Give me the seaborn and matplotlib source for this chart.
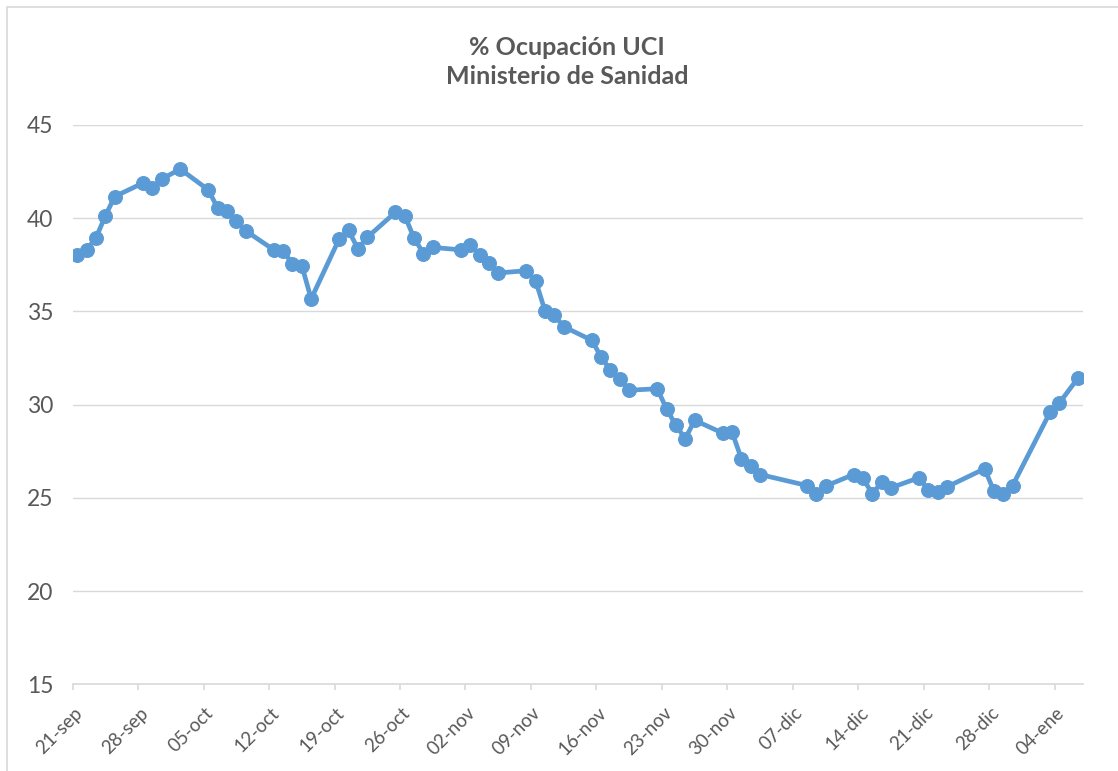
#!/usr/bin/env python3
"""
% Ocupacion UCI (Ministerio de Sanidad) - line chart with markers.
"""

import pandas as pd
import matplotlib
matplotlib.use("Agg")
import matplotlib.pyplot as plt
from matplotlib.patches import Rectangle
from matplotlib.transforms import ScaledTranslation
import seaborn as sns

# Dates of each report (as shown on the chart) and % ICU occupancy
fechas = [
    "2020-09-21", "2020-09-22", "2020-09-23", "2020-09-24", "2020-09-25",
    "2020-09-28", "2020-09-29", "2020-09-30", "2020-10-02",
    "2020-10-05", "2020-10-06", "2020-10-07", "2020-10-08", "2020-10-09",
    "2020-10-12", "2020-10-13", "2020-10-14", "2020-10-15", "2020-10-16",
    "2020-10-19", "2020-10-20", "2020-10-21", "2020-10-22",
    "2020-10-25", "2020-10-26", "2020-10-27", "2020-10-28", "2020-10-29",
    "2020-11-01", "2020-11-02", "2020-11-03", "2020-11-04", "2020-11-05",
    "2020-11-08", "2020-11-09", "2020-11-10", "2020-11-11", "2020-11-12",
    "2020-11-15", "2020-11-16", "2020-11-17", "2020-11-18", "2020-11-19",
    "2020-11-22", "2020-11-23", "2020-11-24", "2020-11-25", "2020-11-26",
    "2020-11-29", "2020-11-30", "2020-12-01", "2020-12-02", "2020-12-03",
    "2020-12-08", "2020-12-09", "2020-12-10",
    "2020-12-13", "2020-12-14", "2020-12-15", "2020-12-16", "2020-12-17",
    "2020-12-20", "2020-12-21", "2020-12-22", "2020-12-23",
    "2020-12-27", "2020-12-28", "2020-12-29", "2020-12-30",
    "2021-01-03", "2021-01-04", "2021-01-06",
]
ocupacion = [
    38.0, 38.3, 38.95, 40.13, 41.16,
    41.88, 41.64, 42.09, 42.63,
    41.52, 40.54, 40.36, 39.82, 39.32,
    38.3, 38.25, 37.55, 37.45, 35.67,
    38.89, 39.35, 38.35, 38.97,
    40.31, 40.13, 38.94, 38.1, 38.43,
    38.3, 38.57, 38.04, 37.59, 37.06,
    37.18, 36.64, 35.03, 34.79, 34.18,
    33.45, 32.56, 31.84, 31.38, 30.77,
    30.85, 29.77, 28.88, 28.17, 29.16,
    28.47, 28.52, 27.1, 26.68, 26.25,
    25.66, 25.23, 25.63,
    26.25, 26.04, 25.22, 25.84, 25.54,
    26.08, 25.41, 25.31, 25.59,
    26.56, 25.36, 25.18, 25.66,
    29.59, 30.09, 31.43,
]

tick_fechas = pd.date_range("2020-09-21", "2021-01-04", freq="7D")
tick_labels = [
    "21-sep", "28-sep", "05-oct", "12-oct", "19-oct", "26-oct", "02-nov",
    "09-nov", "16-nov", "23-nov", "30-nov", "07-dic", "14-dic", "21-dic",
    "28-dic", "04-ene",
]
y_ticks = [15, 20, 25, 30, 35, 40, 45]

TITULO = "% Ocupación UCI\nMinisterio de Sanidad"
AZUL = "#5B9BD5"
GRIS_TEXTO = "#595959"
GRIS_LINEA = "#D9D9D9"


def build_frame():
    """Put the series in a DataFrame; each day is drawn in the middle of its slot."""
    df = pd.DataFrame({"fecha": pd.to_datetime(fechas), "ocupacion": ocupacion})
    df["x"] = df["fecha"] + pd.Timedelta(hours=12)
    return df


def plot_chart(df, output_path):
    sns.set_theme(style="white")
    plt.rcParams["font.family"] = ["Lato", "DejaVu Sans"]

    fig = plt.figure(figsize=(11.18, 7.71), dpi=100)
    ax = fig.add_axes([0.065, 0.1125, 0.9035, 0.7255])

    sns.lineplot(data=df, x="x", y="ocupacion", ax=ax, color=AZUL,
                 linewidth=3.4, marker="o", markersize=10,
                 markeredgecolor=AZUL, markerfacecolor=AZUL)

    ax.set_xlim(pd.Timestamp("2020-09-21"), pd.Timestamp("2021-01-07"))
    ax.set_ylim(15, 45)
    ax.set_yticks(y_ticks)
    ax.set_xticks(tick_fechas)
    ax.set_xticklabels(tick_labels, rotation=45, ha="right",
                       rotation_mode="anchor", va="center")
    ax.set_xlabel("")
    ax.set_ylabel("")

    # Excel-style axes: horizontal grid, light bottom axis with ticks
    ax.grid(axis="y", color=GRIS_LINEA, linewidth=1.0)
    ax.grid(axis="x", visible=False)
    for side in ["left", "right", "top"]:
        ax.spines[side].set_visible(False)
    ax.spines["bottom"].set_color(GRIS_LINEA)
    ax.spines["bottom"].set_linewidth(1.2)
    ax.tick_params(axis="x", colors=GRIS_TEXTO, labelsize=13.5,
                   length=4, width=1.2, color=GRIS_LINEA, direction="out",
                   pad=14.8, bottom=True)
    ax.tick_params(axis="y", colors=GRIS_TEXTO, labelsize=16.5, length=0, pad=14)

    # rotated labels end a little to the right of their tick, as in Excel
    shift = ScaledTranslation(7 / 100, 0, fig.dpi_scale_trans)
    for lab in ax.get_xticklabels():
        lab.set_transform(lab.get_transform() + shift)

    fig.text(0.507, 1 - 62 / 771, TITULO, ha="center", va="center",
             fontsize=18, fontweight="bold", color=GRIS_TEXTO, linespacing=1.3)

    # chart area border
    fig.add_artist(Rectangle((7 / 1118, -0.1), 1.2, 1.1 - 7 / 771,
                             transform=fig.transFigure, fill=False,
                             edgecolor=GRIS_LINEA, linewidth=1.2))

    fig.savefig(output_path, dpi=100)
    plt.close(fig)


def main():
    df = build_frame()
    plot_chart(df, "out.png")


if __name__ == "__main__":
    main()
